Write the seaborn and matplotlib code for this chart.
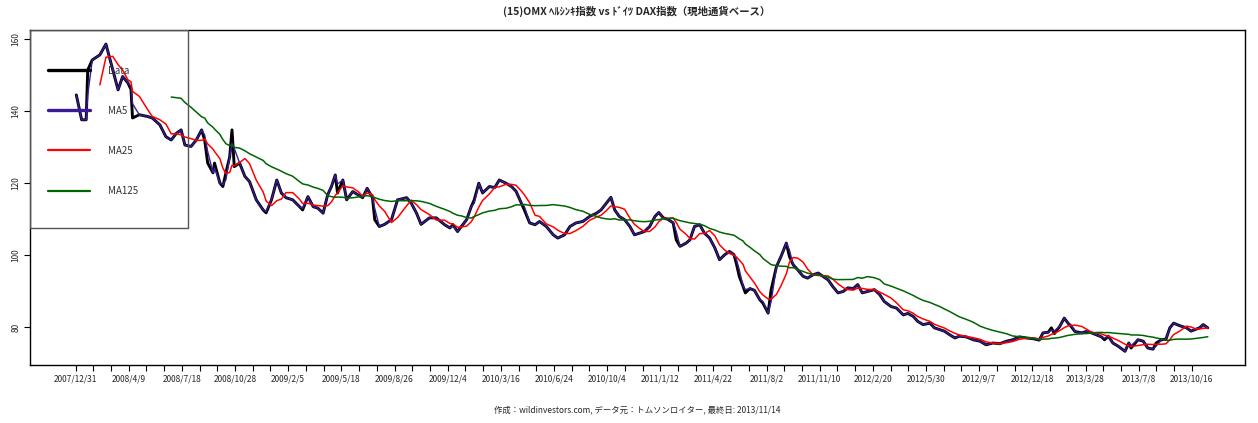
import numpy as np
import pandas as pd
import matplotlib
matplotlib.use("Agg")
import matplotlib.pyplot as plt
import matplotlib.patches as patches
from matplotlib.lines import Line2D
import seaborn as sns

# trading-day index (from 2007/12/31) and index level
day = [1, 8, 14, 16, 22, 32, 40, 49, 56, 62, 69, 73, 75, 84, 95, 101, 111, 119, 126, 133,
       139, 144, 152, 159, 166, 170, 174, 181, 183, 190, 194, 198, 203, 206, 209, 216, 223, 229,
       238, 247, 251, 258, 265, 271, 277, 286, 295, 299, 306, 313, 319, 326, 332, 337, 342, 345,
       352, 357, 365, 372, 378, 384, 391, 394, 400, 407, 416, 424, 436, 442, 449, 455, 466, 475,
       486, 493, 497, 503, 508, 515, 521, 525, 531, 536, 545, 552, 558, 567, 574, 580, 587, 591,
       598, 605, 611, 620, 629, 635, 644, 651, 659, 668, 677, 686, 692, 699, 705, 710, 716, 723,
       730, 736, 743, 749, 756, 763, 768, 774, 780, 787, 791, 796, 804, 809, 815, 822, 828, 835,
       842, 848, 855, 861, 867, 870, 874, 879, 882, 888, 894, 901, 905, 912, 916, 923, 929, 936,
       940, 945, 951, 958, 964, 971, 978, 984, 991, 997, 1004, 1011, 1017, 1024, 1030, 1036, 1043,
       1052, 1059, 1065, 1074, 1081, 1090, 1096, 1103, 1109, 1116, 1125, 1131, 1138, 1144, 1151,
       1158, 1164, 1173, 1182, 1191, 1199, 1208, 1217, 1226, 1234, 1243, 1252, 1261, 1269, 1274,
       1281, 1285, 1289, 1296, 1302, 1307, 1311, 1316, 1325, 1331, 1338, 1344, 1351, 1355, 1360,
       1366, 1373, 1382, 1387, 1390, 1399, 1406, 1412, 1419, 1423, 1430, 1436, 1441, 1446, 1454,
       1463, 1469, 1474, 1480, 1485, 1491]
value = [144.5, 137.6, 137.6, 151.4, 154.2, 155.6, 158.6, 151.4, 145.9, 149.6, 147.8, 146.0, 138.1,
         139.0, 138.5, 138.1, 136.2, 132.9, 132.0, 133.9, 134.8, 130.6, 130.2, 132.0, 134.8, 132.0,
         125.6, 122.9, 125.6, 120.1, 119.1, 122.9, 127.4, 134.8, 124.6, 125.6, 121.9, 120.5,
         115.4, 112.6, 111.8, 115.4, 120.9, 117.3, 116.0, 115.4, 113.5, 112.6, 116.3, 113.5, 113.1,
         111.7, 116.8, 119.1, 122.3, 117.3, 120.9, 115.4, 117.7, 116.8, 116.0, 118.6, 116.0, 109.9,
         108.0, 108.6, 109.9, 115.4, 116.0, 114.5, 111.7, 108.6, 110.4, 110.4, 108.5, 107.6,
         108.5, 106.6, 108.0, 109.9, 113.5, 115.4, 120.0, 117.3, 119.1, 118.8, 120.9, 120.0, 119.1,
         117.8, 114.5, 112.6, 109.0, 108.5, 109.4, 108.0, 105.7, 104.8, 105.7, 108.0, 109.0, 109.4,
         110.8, 111.7, 112.6, 114.5, 116.1, 112.6, 110.8, 109.9, 108.0, 105.7, 106.2, 106.6, 108.0,
         110.8, 111.9, 110.4, 110.0, 109.0, 104.3, 102.5, 103.4, 104.3, 108.0, 108.5, 106.2, 104.8,
         102.0, 98.8, 100.2, 101.1, 100.2, 97.9, 94.2, 91.4, 89.6, 90.8, 90.3, 87.7, 86.8, 84.0,
         90.5, 96.9, 99.7, 103.4, 99.7, 97.4, 96.0, 94.2, 93.7, 94.6, 95.1, 94.2, 93.2, 91.4, 89.6,
         90.0, 91.0, 90.8, 91.9, 89.6, 90.0, 90.5, 89.1, 87.2, 85.8, 85.4, 83.5, 83.9, 83.1, 81.7,
         80.8, 81.2, 79.9, 79.4, 79.0, 78.0, 77.1, 77.6, 77.4, 76.6, 76.2, 75.2, 75.7, 75.5, 76.2,
         76.6, 77.4, 77.1, 76.9, 76.5, 78.5, 78.7, 79.9, 78.3, 80.3, 82.6, 81.2, 80.3, 78.9, 78.5,
         78.9, 78.5, 78.0, 77.4, 76.6, 77.6, 75.7, 74.8, 73.4, 75.7, 74.3, 76.6, 76.2, 74.3, 74.0,
         75.7, 76.6, 76.8, 79.9, 81.2, 80.5, 79.9, 79.0, 79.4, 79.9, 80.8, 79.9]

tick_labels = ["2007/12/31", "2008/4/9", "2008/7/18", "2008/10/28", "2009/2/5", "2009/5/18",
               "2009/8/26", "2009/12/4", "2010/3/16", "2010/6/24", "2010/10/4", "2011/1/12",
               "2011/4/22", "2011/8/2", "2011/11/10", "2012/2/20", "2012/5/30", "2012/9/7",
               "2012/12/18", "2013/3/28", "2013/7/8", "2013/10/16"]
label_step = 70

title = "(15)OMX ﾍﾙｼﾝｷ指数 vs ﾄﾞｲﾂ DAX指数（現地通貨ベース）"
footer = "作成：wildinvestors.com, データ元：トムソンロイター, 最終日: 2013/11/14"

# moving averages over trading days
df = pd.DataFrame({"day": day, "Data": value})
ts = df.set_index(pd.to_datetime(df["day"], unit="D"))["Data"]
df["MA5"] = ts.rolling("5D").mean().values
df["MA25"] = ts.rolling("25D").mean().values
df["MA125"] = ts.rolling("125D").mean().values
df.loc[df["day"] < 24, "MA25"] = np.nan
df.loc[df["day"] < 124, "MA125"] = np.nan

sns.set_style("ticks")
plt.rcParams["font.family"] = ["Noto Sans CJK JP", "DejaVu Sans"]

colors = {"Data": "black", "MA5": "#3a1a99", "MA25": "#ff0000", "MA125": "#006400"}
widths = {"Data": 2.1, "MA5": 1.0, "MA25": 1.1, "MA125": 1.1}

fig = plt.figure(figsize=(12.58, 4.23), dpi=100)
ax = fig.add_axes([30 / 1258, 58 / 423, 1215 / 1258, 335 / 423])

for col in ["Data", "MA5", "MA25", "MA125"]:
    sns.lineplot(data=df, x="day", y=col, color=colors[col], lw=widths[col], ax=ax, legend=False)

ax.set_xlim(-60, 1540)
ax.set_ylim(69.6, 162.5)
ax.set_xlabel("")
ax.set_ylabel("")

ax.set_xticks(np.arange(len(tick_labels)) * label_step)
ax.set_xticklabels(tick_labels, fontsize=6)
ax.set_xticks(np.arange(0, 1471, label_step / 3), minor=True)
ax.set_yticks([80, 100, 120, 140, 160])
ax.set_yticklabels(["80", "100", "120", "140", "160"], fontsize=6, rotation=90, va="center")
ax.tick_params(axis="both", which="both", length=4, width=0.8, color="black", pad=3)
for s in ax.spines.values():
    s.set_color("black")
    s.set_linewidth(1.0)

# legend box in top-left corner
ax.add_patch(patches.Rectangle((0, 0.409), 0.130, 0.591, transform=ax.transAxes,
                               fill=False, ec="#555555", lw=1.0, zorder=5))
handles = [Line2D([], [], color=colors["Data"], lw=2.4),
           Line2D([], [], color=colors["MA5"], lw=2.4),
           Line2D([], [], color=colors["MA25"], lw=1.6),
           Line2D([], [], color=colors["MA125"], lw=1.6)]
leg = ax.legend(handles, ["Data", "MA5", "MA25", "MA125"], loc="upper left",
                bbox_to_anchor=(18 / 1215, 0.894), frameon=False, fontsize=7,
                handlelength=4.3, handletextpad=1.85, labelspacing=3.1,
                borderpad=0, borderaxespad=0)
for t in leg.get_texts():
    t.set_color("#333333")

fig.text(637 / 1258, 1 - 11 / 423, title, ha="center", va="center", fontsize=7.5, fontweight="bold")
fig.text(637 / 1258, 1 - 410 / 423, footer, ha="center", va="center", fontsize=6)

fig.savefig("out.png", dpi=100)
